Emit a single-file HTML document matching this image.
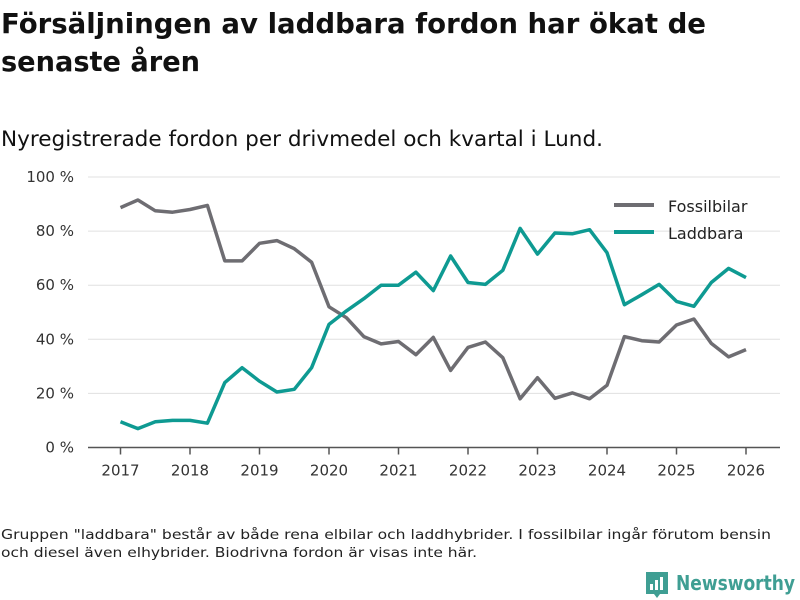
<!DOCTYPE html>
<html><head><meta charset="utf-8">
<style>
body{margin:0;background:#fff;}
svg{display:block;font-family:"DejaVu Sans","Liberation Sans",sans-serif;}
</style></head>
<body>
<svg id="chart" width="800" height="600" viewBox="0 0 800 600">
<text x="1" y="33" font-size="28" font-weight="bold" fill="#111" textLength="705" lengthAdjust="spacingAndGlyphs">Försäljningen av laddbara fordon har ökat de</text>
<text x="1" y="71" font-size="28" font-weight="bold" fill="#111" textLength="199" lengthAdjust="spacingAndGlyphs">senaste åren</text>
<text x="1" y="146" font-size="21" fill="#111" textLength="602" lengthAdjust="spacingAndGlyphs">Nyregistrerade fordon per drivmedel och kvartal i Lund.</text>
<g id="grid"></g>
<g id="xaxis"></g>
<g id="lines"></g>
<g>
  <line x1="614" y1="205" x2="654" y2="205" stroke="#6e6d72" stroke-width="4"/>
  <text x="668" y="212" font-size="16" fill="#222">Fossilbilar</text>
  <line x1="614" y1="232" x2="654" y2="232" stroke="#0e9a92" stroke-width="4"/>
  <text x="668" y="239" font-size="16" fill="#222">Laddbara</text>
</g>
<text x="1" y="539" font-size="13.5" fill="#222" textLength="770" lengthAdjust="spacingAndGlyphs">Gruppen "laddbara" består av både rena elbilar och laddhybrider. I fossilbilar ingår förutom bensin</text>
<text x="1" y="557" font-size="13.5" fill="#222" textLength="476" lengthAdjust="spacingAndGlyphs">och diesel även elhybrider. Biodrivna fordon är visas inte här.</text>
<g>
  <path d="M646 572 h22 v22 h-8 l-3 4 l-3 -4 h-8 z" fill="#3f9e93"/>
  <rect x="650" y="584" width="3" height="6" fill="#fff"/>
  <rect x="655" y="580" width="3" height="10" fill="#fff"/>
  <rect x="660" y="577" width="3" height="13" fill="#fff"/>
  <text x="676" y="590" font-size="20" font-weight="bold" fill="#3f9e93" textLength="119" lengthAdjust="spacingAndGlyphs">Newsworthy</text>
</g>
</svg>
<script>
const years = [2017,2018,2019,2020,2021,2022,2023,2024,2025,2026];
const yTicks = [0,20,40,60,80,100];
const yTickLabels = ["0 %","20 %","40 %","60 %","80 %","100 %"];
const fossil = [88.7,91.5,87.5,87,88,89.5,69,69,75.5,76.5,73.5,68.5,52,48,41,38.3,39.2,34.3,40.7,28.5,37,39,33.2,18,25.8,18.2,20.2,18,23,41,39.5,39,45.3,47.5,38.5,33.5,36.2];
const laddbara = [9.5,7,9.5,10,10,9,24,29.5,24.5,20.5,21.5,29.5,45.5,50.5,55,60,60,64.8,58,70.8,61,60.3,65.5,81,71.5,79.3,79,80.5,72,52.8,56.5,60.3,54,52.2,61,66.2,62.8];
const NS="http://www.w3.org/2000/svg";
const x0=120.5, x1=746, y0=447.5, y1=177;
function xs(t){return x0+(t-2017)/(2026-2017)*(x1-x0);}
function ys(v){return y0-(v/100)*(y0-y1);}
function mk(tag,attrs,parent){const e=document.createElementNS(NS,tag);for(const k in attrs)e.setAttribute(k,attrs[k]);parent.appendChild(e);return e;}
const grid=document.getElementById('grid');
yTicks.forEach((v,i)=>{
  if(v>0){
    const l=mk('line',{x1:88,x2:780,y1:ys(v),y2:ys(v),stroke:'#e0e0e0','stroke-width':1},grid);
    
    
  }
  const t=mk('text',{x:74,y:ys(v)+5,'text-anchor':'end','font-size':15,fill:'#333'},grid);
  t.textContent=yTickLabels[i];
  
  
});
const xa=document.getElementById('xaxis');
const ax=mk('line',{x1:88,x2:780,y1:y0,y2:y0,stroke:'#555','stroke-width':1.5},xa);


years.forEach(yr=>{
  mk('line',{x1:xs(yr),x2:xs(yr),y1:y0,y2:y0+7,stroke:'#555','stroke-width':1.5},xa);
  const t=mk('text',{x:xs(yr),y:y0+28,'text-anchor':'middle','font-size':15,fill:'#333'},xa);
  t.textContent=yr;
  
  
});
const lines=document.getElementById('lines');
function series(data,color,name){
  const d=data.map((v,i)=>(i?'L':'M')+xs(2017+i*0.25).toFixed(1)+' '+ys(v).toFixed(1)).join(' ');
  const p=mk('path',{d:d,fill:'none',stroke:color,'stroke-width':3.5,'stroke-linejoin':'round'},lines);
  
  
}
series(fossil,'#6e6d72','line-fossilbilar');
series(laddbara,'#0e9a92','line-laddbara');
</script>
</body></html>
